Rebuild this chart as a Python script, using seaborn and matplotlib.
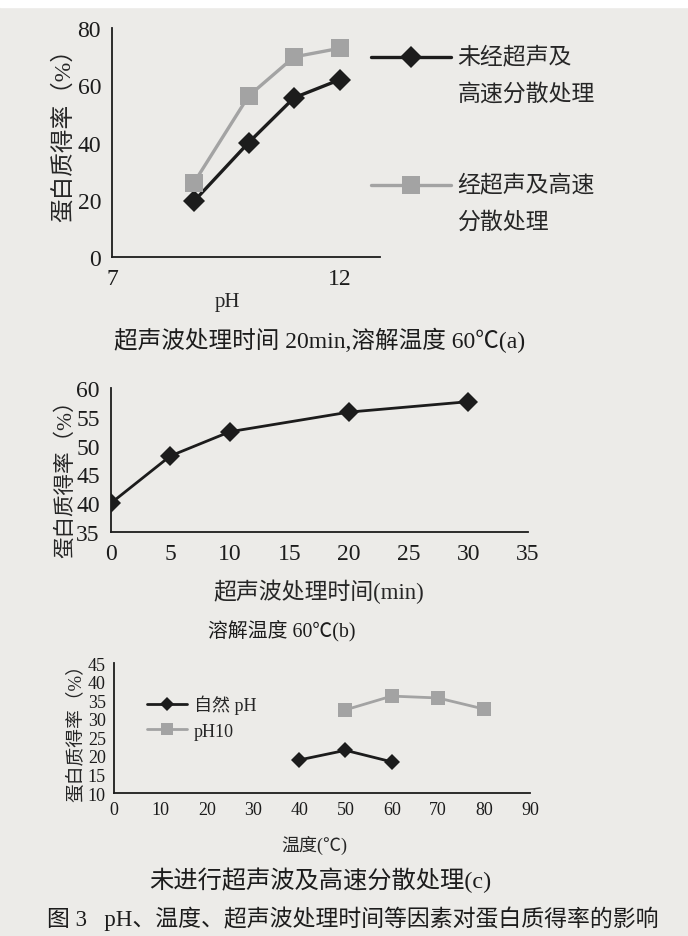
import pandas as pd
import matplotlib.pyplot as plt
import seaborn as sns

# panel (a): yield vs pH
ph = [8.8, 10, 11, 12]
rate_a_plain = [19.5, 40, 55.7, 62]
rate_a_treated = [26, 56.3, 70, 73]
label_plain = '未经超声及\n高速分散处理'
label_treated = '经超声及高速\n分散处理'

# panel (b): yield vs ultrasonic time
time_min = [0, 5, 10, 20, 30]
rate_b = [40, 48.2, 52.4, 55.8, 57.6]

# panel (c): yield vs temperature
temp_nat = [40, 50, 60]
rate_nat = [18.9, 21.5, 18.4]
temp_ph10 = [50, 60, 70, 80]
rate_ph10 = [32.4, 36.1, 35.6, 32.6]
label_nat = '自然 pH'
label_ph10 = 'pH10'

YLABEL = '蛋白质得率（%）'

BG = '#ecebe8'
DARK = '#1c1c1c'
GRAY = '#a3a3a3'

sns.set_style('white')
plt.rcParams['font.family'] = ['Liberation Serif', 'Noto Sans CJK SC']
plt.rcParams['axes.unicode_minus'] = False

fig = plt.figure(figsize=(6.88, 9.37), dpi=100, facecolor=BG)
# white strip at the top of the scan
fig.patches.append(plt.Rectangle((0, 1 - 8 / 937), 1, 8 / 937, color='white',
                                 transform=fig.transFigure, zorder=0))


def style_axes(ax, tsize):
    ax.set_facecolor(BG)
    sns.despine(ax=ax)
    for s in ['left', 'bottom']:
        ax.spines[s].set_color(DARK)
        ax.spines[s].set_linewidth(1.3)
    ax.tick_params(direction='in', length=4, width=1, colors=DARK,
                   labelsize=tsize, pad=8)


# ---- (a)
df_a = pd.DataFrame({
    'pH': ph + ph,
    'rate': rate_a_plain + rate_a_treated,
    'group': [label_plain] * len(ph) + [label_treated] * len(ph),
})
ax1 = fig.add_axes([0.163, 0.7247, 0.39, 0.244])
sns.lineplot(data=df_a, x='pH', y='rate', hue='group', style='group',
             palette={label_plain: DARK, label_treated: GRAY},
             markers={label_plain: 'D', label_treated: 's'}, dashes=False,
             linewidth=2.4, markeredgewidth=0, ax=ax1)
for ln in ax1.lines:
    ln.set_markersize(11 if ln.get_marker() == 'D' else 13)
style_axes(ax1, 17)
ax1.set_xlim(7, 12.9)
ax1.set_ylim(0, 80)
ax1.set_xticks([7, 12])
ax1.set_yticks([0, 20, 40, 60, 80])
ax1.set_xlabel('pH', fontsize=15, x=0.43, labelpad=2)
ax1.set_ylabel(YLABEL, fontsize=17, labelpad=2, y=0.56)
h, l = ax1.get_legend_handles_labels()
for hh in h:
    hh.set_markersize(11 if hh.get_marker() == 'D' else 13)
# a blank leading line keeps the marker level with the first text line
leg = ax1.legend(h, [' \n' + t for t in l], loc='upper left',
                 bbox_to_anchor=(0.963, 1.082), frameon=False, fontsize=16.5,
                 handlelength=3.5, handletextpad=0.3, labelspacing=1.45,
                 borderpad=0, borderaxespad=0)
for t in leg.get_texts():
    t.set_linespacing(1.9)

fig.text(0.465, 0.637, '超声波处理时间 20min,溶解温度 60℃(a)', fontsize=17,
         ha='center', va='center', color=DARK)

# ---- (b)
df_b = pd.DataFrame({'time': time_min, 'rate': rate_b})
ax2 = fig.add_axes([0.161, 0.431, 0.606, 0.154])
sns.lineplot(data=df_b, x='time', y='rate', color=DARK, marker='D',
             markersize=10, markeredgewidth=0, linewidth=2, ax=ax2)
style_axes(ax2, 17)
ax2.set_xlim(0, 35)
ax2.set_ylim(35, 60)
ax2.set_xticks(range(0, 36, 5))
ax2.set_yticks(range(35, 61, 5))
ax2.set_xlabel('超声波处理时间(min)', fontsize=16.5, labelpad=10)
ax2.set_ylabel(YLABEL, fontsize=15.5, labelpad=0, y=0.41)
fig.text(0.302, 0.327, '溶解温度 60℃(b)', fontsize=14.3,
         ha='left', va='center', color=DARK)

# ---- (c)
df_c = pd.DataFrame({
    'temp': temp_nat + temp_ph10,
    'rate': rate_nat + rate_ph10,
    'group': [label_nat] * len(temp_nat) + [label_ph10] * len(temp_ph10),
})
ax3 = fig.add_axes([0.166, 0.1526, 0.605, 0.1387])
sns.lineplot(data=df_c, x='temp', y='rate', hue='group', style='group',
             palette={label_nat: DARK, label_ph10: GRAY},
             markers={label_nat: 'D', label_ph10: 's'}, dashes=False,
             linewidth=2, markeredgewidth=0, ax=ax3)
for ln in ax3.lines:
    ln.set_markersize(8 if ln.get_marker() == 'D' else 10)
style_axes(ax3, 13)
ax3.tick_params(pad=6)
ax3.set_xlim(0, 90)
ax3.set_ylim(10, 45)
ax3.set_xticks(range(0, 91, 10))
ax3.set_yticks(range(10, 46, 5))
ax3.set_xlabel('温度(℃)', fontsize=13, labelpad=12, x=0.48)
ax3.set_ylabel(YLABEL, fontsize=13.5, labelpad=2)
h, l = ax3.get_legend_handles_labels()
for hh in h:
    hh.set_markersize(7 if hh.get_marker() == 'D' else 8)
ax3.legend(h, l, loc='upper left', bbox_to_anchor=(0.04, 0.88), frameon=False,
           fontsize=13, handlelength=2.2, handletextpad=0.4, labelspacing=0.45)

fig.text(0.465, 0.061, '未进行超声波及高速分散处理(c)', fontsize=17.5,
         ha='center', va='center', color=DARK)
fig.text(0.513, 0.02, '图 3   pH、温度、超声波处理时间等因素对蛋白质得率的影响',
         fontsize=16.5, ha='center', va='center', color=DARK)

fig.savefig('out.png', dpi=100, facecolor=BG)
